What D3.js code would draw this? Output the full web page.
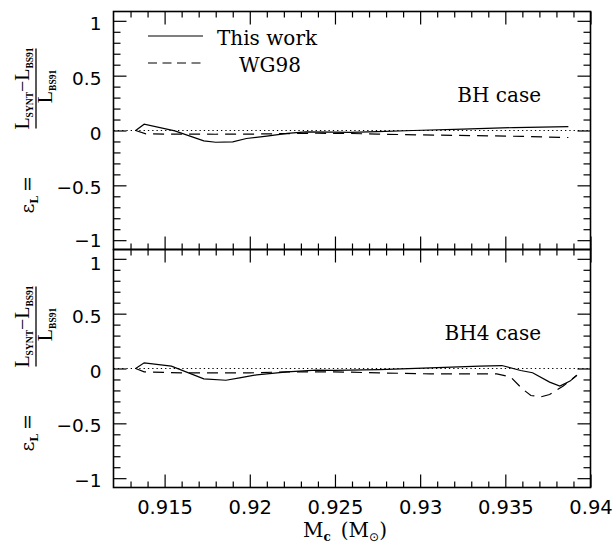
<!DOCTYPE html>
<html>
<head>
<meta charset="utf-8">
<script src="https://cdn.jsdelivr.net/npm/d3@7"></script>
<style>
  html, body { margin: 0; padding: 0; background: #fff; }
  svg { display: block; }
  .tick text { font-family: "DejaVu Sans", sans-serif; font-size: 18.5px; fill: #000; }
  .lbl { font-family: "DejaVu Serif", serif; fill: #000; }
  .frac { font-family: "Liberation Serif", serif; fill: #000; }
</style>
</head>
<body>
<svg id="chart" width="613" height="548"></svg>
<script>
// Core mass (solar masses) and relative luminosity deviation for each model
const massThisWorkBH = [0.9133, 0.9138, 0.9156, 0.9173, 0.9180, 0.9190, 0.9198, 0.9210, 0.9222, 0.9233, 0.9249, 0.9259, 0.9275, 0.9296, 0.9325, 0.9355, 0.9387];
const epsThisWorkBH  = [0, 0.057, -0.004, -0.095, -0.107, -0.104, -0.073, -0.052, -0.027, -0.013, -0.015, -0.018, -0.010, 0.000, 0.012, 0.027, 0.036];

const massWG98BH = [0.9133, 0.9139, 0.9157, 0.9180, 0.9200, 0.9222, 0.9240, 0.9259, 0.9275, 0.9300, 0.9330, 0.9360, 0.9387];
const epsWG98BH  = [0, -0.031, -0.033, -0.034, -0.033, -0.028, -0.025, -0.027, -0.033, -0.040, -0.046, -0.054, -0.064];

const massThisWorkBH4 = [0.9133, 0.9138, 0.9154, 0.9173, 0.9186, 0.9194, 0.9204, 0.9222, 0.9239, 0.9249, 0.9276, 0.9306, 0.9335, 0.9348, 0.9359, 0.9366, 0.9376, 0.9382, 0.9388, 0.9392];
const epsThisWorkBH4  = [0, 0.052, 0.021, -0.094, -0.107, -0.085, -0.058, -0.030, -0.015, -0.018, -0.010, 0.006, 0.021, 0.027, -0.018, -0.039, -0.124, -0.160, -0.115, -0.061];

const massWG98BH4 = [0.9133, 0.9138, 0.9160, 0.9200, 0.9222, 0.9249, 0.9276, 0.9306, 0.9345, 0.9353, 0.9360, 0.9365, 0.9371, 0.9376, 0.9384, 0.9392];
const epsWG98BH4  = [0, -0.030, -0.040, -0.040, -0.030, -0.030, -0.040, -0.049, -0.049, -0.076, -0.186, -0.246, -0.258, -0.237, -0.160, -0.061];

const xMajorTicks = [0.915, 0.92, 0.925, 0.93, 0.935, 0.94];
const xTickLabels = ["0.915", "0.92", "0.925", "0.93", "0.935", "0.94"];
const yMajorTicks = [-1, -0.5, 0, 0.5, 1];
const yTickLabels = ["\u22121", "\u22120.5", "0", "0.5", "1"];
const panelNames = ["BH case", "BH4 case"];
const legendNames = ["This work", "WG98"];

const svg = d3.select("#chart");
const left = 113.5, right = 590.5;
const panelTops = [11.5, 249.5];
const panelH = 238;
const yLim = 1.085;

const x = d3.scaleLinear().domain([0.912, 0.94]).range([left, right]);

const xMinor = d3.range(913, 940).map(v => v / 1000).filter(v => !xMajorTicks.some(m => Math.abs(m - v) < 1e-9));
const yMinor = d3.range(-10, 11).map(v => v / 10).filter(v => !yMajorTicks.some(m => Math.abs(m - v) < 1e-9));

const series = [
  [{m: massThisWorkBH, e: epsThisWorkBH, dash: null}, {m: massWG98BH, e: epsWG98BH, dash: "11,7"}],
  [{m: massThisWorkBH4, e: epsThisWorkBH4, dash: null}, {m: massWG98BH4, e: epsWG98BH4, dash: "11,7"}]
];

function styleAxis(g) {
  g.select(".domain").remove();
  g.selectAll(".tick line").attr("stroke", "#000").attr("stroke-width", 1.2);
}

panelTops.forEach((top, p) => {
  const y = d3.scaleLinear().domain([-yLim, yLim]).range([top + panelH, top]);
  const g = svg.append("g");

  // zero reference line
  g.append("line")
    .attr("x1", left).attr("x2", right)
    .attr("y1", y(0)).attr("y2", y(0))
    .attr("stroke", "#000").attr("stroke-width", 1.1)
    .attr("stroke-dasharray", "1.3,3");

  // curves
  const line = d3.line().x(d => x(d[0])).y(d => y(d[1]));
  series[p].forEach(s => {
    g.append("path")
      .datum(d3.zip(s.m, s.e))
      .attr("d", line)
      .attr("fill", "none")
      .attr("stroke", "#000")
      .attr("stroke-width", 1.2)
      .attr("stroke-dasharray", s.dash);
  });

  // left axis (ticks point inward, labels outside)
  const yl = g.append("g").attr("transform", `translate(${left},0)`)
    .call(d3.axisLeft(y).tickValues(yMajorTicks).tickSize(-13).tickPadding(13)
      .tickFormat((d, i) => yTickLabels[i]));
  // labels next to the panel seam are nudged apart a little
  yl.selectAll(".tick text").attr("dy", null).attr("x", -12)
    .attr("y", d => (p === 0 && d === -1) ? 6.5 : (p === 1 && d === 1) ? 11 : 8.5);
  styleAxis(yl);
  styleAxis(g.append("g").attr("transform", `translate(${left},0)`)
    .call(d3.axisLeft(y).tickValues(yMinor).tickSize(-7).tickFormat("")));

  // right axis
  styleAxis(g.append("g").attr("transform", `translate(${right},0)`)
    .call(d3.axisRight(y).tickValues(yMajorTicks).tickSize(-13).tickFormat("")));
  styleAxis(g.append("g").attr("transform", `translate(${right},0)`)
    .call(d3.axisRight(y).tickValues(yMinor).tickSize(-7).tickFormat("")));

  // top and bottom ticks
  styleAxis(g.append("g").attr("transform", `translate(0,${top})`)
    .call(d3.axisTop(x).tickValues(xMajorTicks).tickSize(-13).tickFormat("")));
  styleAxis(g.append("g").attr("transform", `translate(0,${top})`)
    .call(d3.axisTop(x).tickValues(xMinor).tickSize(-6).tickFormat("")));
  const xb = g.append("g").attr("transform", `translate(0,${top + panelH})`)
    .call(d3.axisBottom(x).tickValues(xMajorTicks).tickSize(-13)
      .tickFormat((d, i) => p === 1 ? xTickLabels[i] : ""));
  xb.selectAll(".tick text").attr("dy", null).attr("y", 26).style("font-size", "19.5px");
  styleAxis(xb);
  styleAxis(g.append("g").attr("transform", `translate(0,${top + panelH})`)
    .call(d3.axisBottom(x).tickValues(xMinor).tickSize(-6).tickFormat("")));

  // frame
  g.append("rect")
    .attr("x", left).attr("y", top)
    .attr("width", right - left).attr("height", panelH)
    .attr("fill", "none").attr("stroke", "#000").attr("stroke-width", 1.6);

  // case label
  g.append("text").attr("class", "lbl")
    .attr("x", 541).attr("y", top + 90)
    .attr("text-anchor", "end").attr("font-size", 20)
    .text(panelNames[p]);

  // y-axis label: eps_L = (L_SYNT - L_BS91) / L_BS91
  const yc = y(0);
  const yt = svg.append("g").attr("transform", `translate(0,${yc}) rotate(-90)`);
  const eps = yt.append("text").attr("class", "lbl").attr("x", -83).attr("y", 34).attr("font-size", 19);
  eps.append("tspan").text("\u03b5");
  eps.append("tspan").attr("font-size", 11).attr("font-weight", "bold").attr("dy", 4).text("L");
  eps.append("tspan").attr("dy", -4).attr("dx", 4).text("=");

  const num = yt.append("text").attr("class", "frac").attr("x", 42).attr("y", 29)
    .attr("text-anchor", "middle").attr("font-size", 20);
  num.append("tspan").text("L");
  num.append("tspan").attr("font-size", 9.5).attr("font-weight", "bold").attr("dy", 4).text("SYNT");
  num.append("tspan").attr("dy", -4).text("\u2212");
  num.append("tspan").text("L");
  num.append("tspan").attr("font-size", 9.5).attr("font-weight", "bold").attr("dy", 4).text("BS91");

  yt.append("line").attr("x1", 2).attr("x2", 82).attr("y1", 36).attr("y2", 36)
    .attr("stroke", "#000").attr("stroke-width", 1.3);

  const den = yt.append("text").attr("class", "frac").attr("x", 44).attr("y", 52)
    .attr("text-anchor", "middle").attr("font-size", 20);
  den.append("tspan").text("L");
  den.append("tspan").attr("font-size", 9.5).attr("font-weight", "bold").attr("dy", 4).text("BS91");
});

// legend
const legend = svg.append("g");
legendNames.forEach((name, i) => {
  const ly = 36 + i * 27;
  legend.append("line")
    .attr("x1", 148).attr("x2", 203).attr("y1", ly).attr("y2", ly)
    .attr("stroke", "#000").attr("stroke-width", 1.2)
    .attr("stroke-dasharray", i === 0 ? null : "9,5.5");
  legend.append("text").attr("class", "lbl")
    .attr("x", i === 0 ? 217 : 239).attr("y", ly + 9)
    .attr("font-size", 20)
    .text(name);
});

// x-axis title: M_c (M_sun)
const xt = svg.append("text").attr("class", "lbl")
  .attr("x", 303).attr("y", 537).attr("font-size", 20);
xt.append("tspan").text("M");
xt.append("tspan").attr("font-size", 12).attr("font-weight", "bold").attr("dy", 4).text("c");
xt.append("tspan").attr("dy", -4).attr("dx", 10).text("(M");
xt.append("tspan").attr("font-size", 12).attr("dy", 4).style("font-family", "DejaVu Sans").text("\u2299");
xt.append("tspan").attr("dy", -4).text(")");
</script>
</body>
</html>
